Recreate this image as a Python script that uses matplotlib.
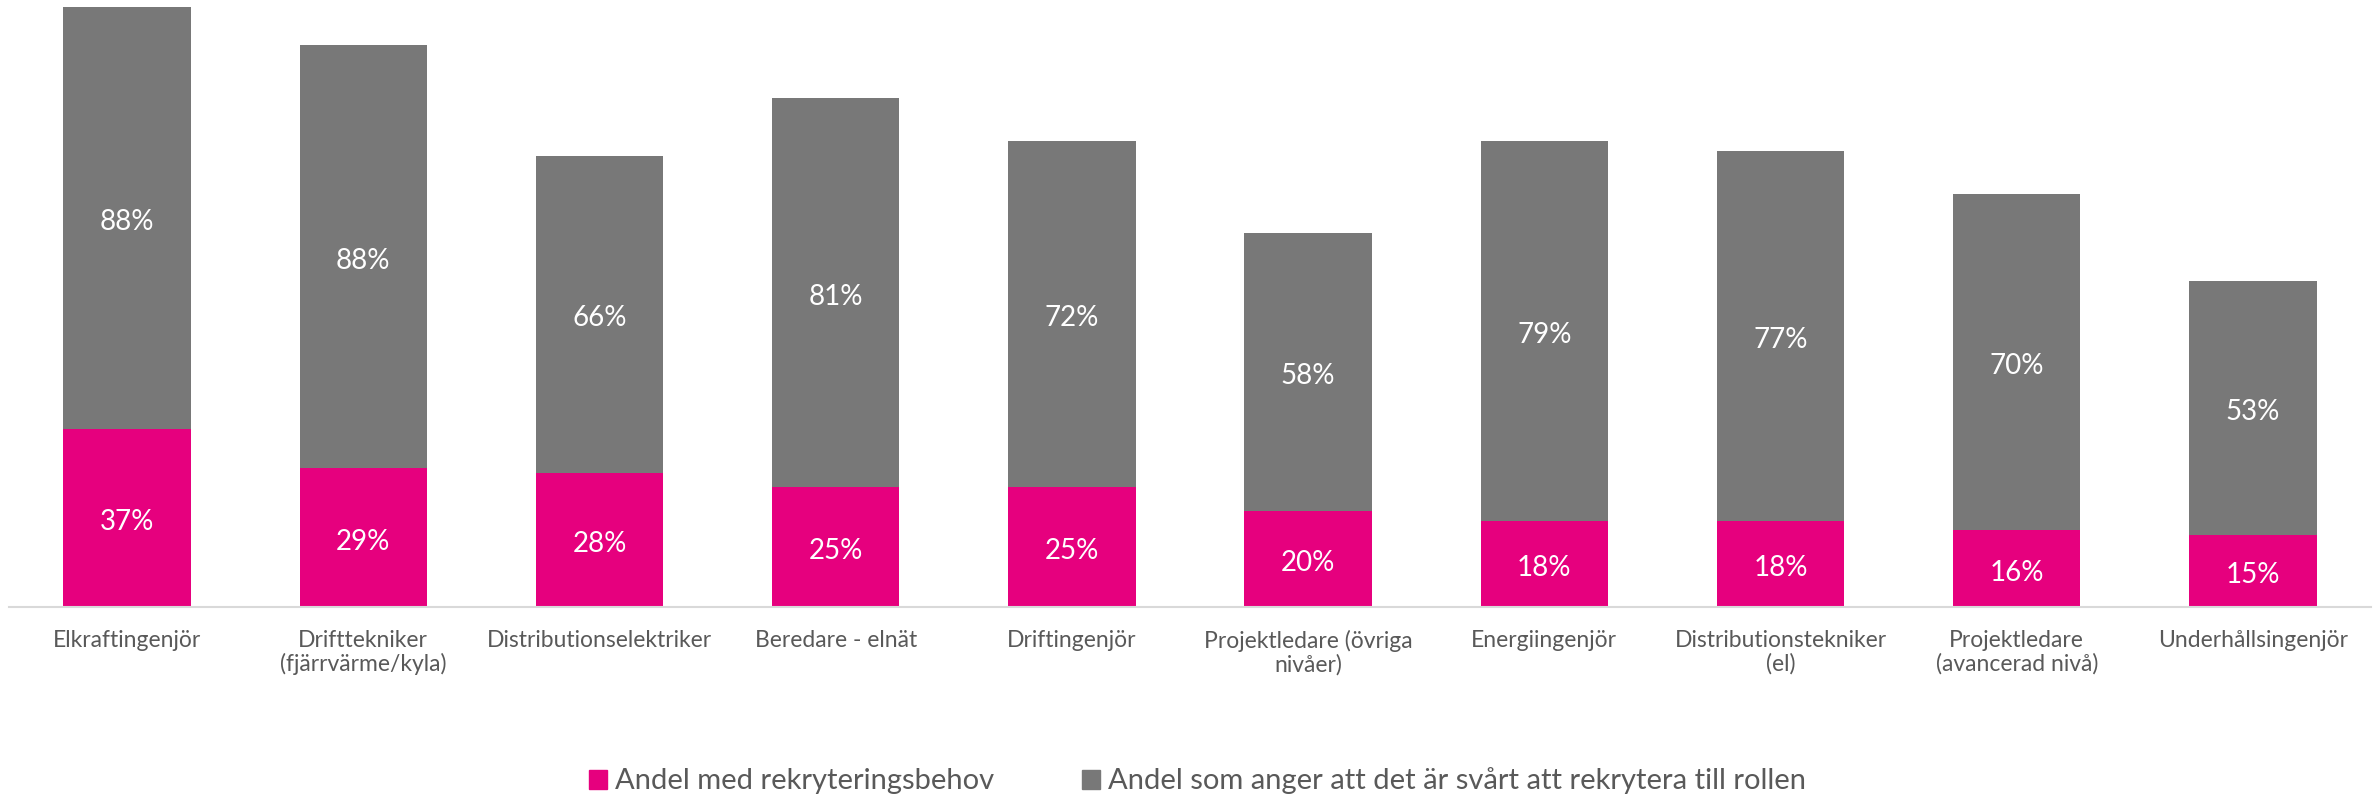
import matplotlib
matplotlib.use("Agg")
import matplotlib.pyplot as plt
from matplotlib.patches import Patch
import numpy as np

categories = ["Elkraftingenjör", "Drifttekniker\n(fjärrvärme/kyla)", "Distributionselektriker",
              "Beredare - elnät", "Driftingenjör", "Projektledare (övriga\nnivåer)",
              "Energiingenjör", "Distributionstekniker\n(el)", "Projektledare\n(avancerad nivå)",
              "Underhållsingenjör"]
rekrytering = [37, 29, 28, 25, 25, 20, 18, 18, 16, 15]
svart = [88, 88, 66, 81, 72, 58, 79, 77, 70, 53]
series_names = ["Andel med rekryteringsbehov",
                "Andel som anger att det är svårt att rekrytera till rollen"]

PINK = "#E6007E"
GRAY = "#787878"
TXT = "#595959"

plt.rcParams['font.family'] = ['Lato', 'DejaVu Sans']

fig = plt.figure(figsize=(23.79, 7.95), dpi=100)
ax = fig.add_axes([9/2379, (795-607)/795, 2362/2379, 600/795])

x = np.arange(len(categories))
w = 0.54
b1 = ax.bar(x, rekrytering, w, color=PINK)
b2 = ax.bar(x, svart, w, bottom=rekrytering, color=GRAY)
for bars, vals in ((b1, rekrytering), (b2, svart)):
    texts = ax.bar_label(bars, labels=[f"{v}%" for v in vals], label_type='center',
                         color='white', fontsize=20)
    for t in texts:
        t.xyann = (0, -3)

ax.set_xlim(-0.5, len(categories) - 0.5)
ax.set_ylim(0, 125)
ax.set_yticks([])
ax.set_xticks(x)
ax.set_xticklabels(categories, fontsize=16.5, color=TXT, linespacing=1.1)
ax.tick_params(axis='x', length=0, pad=16.5)
for s in ['top', 'right', 'left']:
    ax.spines[s].set_visible(False)
ax.spines['bottom'].set_color('#D9D9D9')
ax.spines['bottom'].set_linewidth(1.5)

handles = [Patch(color=PINK), Patch(color=GRAY)]
leg = fig.legend(handles, series_names, loc='center', bbox_to_anchor=(1197.5/2379, 14/795),
                 ncol=2, frameon=False, fontsize=21, handlelength=0.62, handleheight=0.62,
                 handletextpad=0.28, columnspacing=3.0, borderpad=0, borderaxespad=0)
for t in leg.get_texts():
    t.set_color(TXT)

fig.savefig("out.png", dpi=100)
